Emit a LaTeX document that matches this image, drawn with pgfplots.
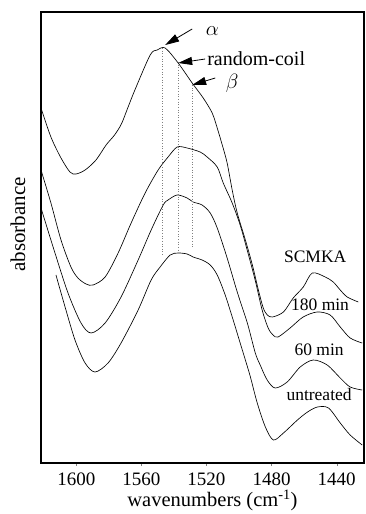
\documentclass[border=0pt]{standalone}
\usepackage{fontspec}
\setmainfont{Liberation Serif}
\usepackage{pgfplots}
\pgfplotsset{compat=1.18}
\usetikzlibrary{arrows.meta}
\begin{document}
\begin{tikzpicture}
\useasboundingbox (-41bp,-51bp) rectangle (325bp,463bp);
\begin{axis}[
  scale only axis, width=323bp, height=451bp,
  x dir=reverse, y dir=reverse,
  xmin=1423.2, xmax=1621.7, ymin=12, ymax=463,
  xtick={1440,1480,1520,1560,1600},
  ytick=\empty,
  xtick pos=bottom,
  tick align=outside, major tick length=3bp,
  axis line style={line width=1.2bp},
  xticklabel style={font=\fontsize{19bp}{23bp}\selectfont, yshift=-3bp},
  /pgf/number format/assume math mode=true,
  /pgf/number format/1000 sep={},
  scaled x ticks=false,
  clip=false,
  every axis plot/.append style={line width=0.65bp, smooth, no marks},
]
% SCMKA
\addplot[black] coordinates {
(1621.7,108)(1615.6,137)(1609.4,158)(1603.9,172)(1600.2,174)(1594.6,170)(1587.9,160)
(1581.7,145)(1576.5,135)(1572.3,124)(1568.4,108)(1564.0,90)(1554.6,55)(1550.3,50)(1545.4,48)
(1537.4,63)(1528.8,83)(1522.0,98)(1516.5,113)(1513.4,128)(1510.3,145)(1507.3,163)
(1504.2,190)(1501.1,213)(1496.1,240)(1491.8,265)(1488.1,290)(1485.1,308)(1482.6,315)
(1479.5,317)(1472.7,312)(1466.7,298)(1460.5,287)(1455.0,273)(1447.0,277)(1442.1,282)
(1437.8,290)(1433.5,297)(1426.7,302)};
% 180 min
\addplot[black] coordinates {
(1621.7,170)(1615.6,203)(1609.4,240)(1603.3,267)(1599.0,278)(1594.0,284)(1589.7,285)
(1582.3,277)(1574.3,253)(1566.3,223)(1557.7,193)(1549.7,170)(1543.6,157)(1538.0,147)
(1531.9,148)(1523.9,152)(1519.6,157)(1513.4,167)(1509.7,183)(1504.2,203)(1499.3,225)
(1495.0,250)(1490.1,280)(1485.8,310)(1482.1,328)(1479.1,335)(1476.0,337)(1468.6,328)
(1460.6,317)(1452.0,312)(1444.0,315)(1437.8,327)(1431.7,338)(1424.3,343)};
% 60 min
\addplot[black] coordinates {
(1621.7,208)(1613.1,253)(1605.1,293)(1597.1,323)(1590.9,333)(1582.3,323)(1572.5,297)
(1562.0,260)(1554.0,230)(1546.6,205)(1543.6,200)(1538.0,195)(1531.9,198)(1528.2,202)
(1522.7,205)(1517.7,213)(1513.4,228)(1507.3,258)(1501.1,292)(1494.9,323)(1490.0,353)
(1487.0,365)(1482.7,380)(1477.8,388)(1470.4,382)(1462.4,367)(1454.4,360)(1445.8,365)
(1437.8,378)(1431.7,387)(1424.3,390)};
% untreated
\addplot[black] coordinates {
(1612.5,275)(1606.9,307)(1600.8,340)(1594.6,363)(1588.5,372)(1580.5,363)(1572.5,343)
(1562.0,310)(1554.0,280)(1548.5,267)(1542.3,255)(1537.4,253)(1531.9,254)(1528.2,257)
(1522.7,260)(1517.7,265)(1513.4,275)(1508.5,295)(1503.6,320)(1499.3,343)(1496.1,360)
(1493.0,377)(1488.8,403)(1483.8,427)(1478.9,440)(1472.7,433)(1464.1,420)(1457.9,412)
(1451.8,407)(1445.0,408)(1437.8,423)(1431.7,435)(1424.3,445)};
% dotted guide lines
\addplot[gray, dotted, line width=0.5bp, sharp plot] coordinates {(1547.1,48)(1547.1,256)};
\addplot[gray, dotted, line width=0.5bp, sharp plot] coordinates {(1537.6,62)(1537.6,250)};
\addplot[gray, dotted, line width=0.5bp, sharp plot] coordinates {(1529.0,85)(1529.0,248)};
% arrows
\draw[line width=0.8bp, -{Triangle[length=14bp,width=8bp]}] (axis cs:1528.8,29) -- (axis cs:1545.4,45);
\draw[line width=0.8bp, -{Triangle[length=14bp,width=8bp]}] (axis cs:1520.8,59) -- (axis cs:1537.4,63);
\draw[line width=0.8bp, -{Triangle[length=14bp,width=8bp]}] (axis cs:1514.6,78) -- (axis cs:1528.8,85);
\node[font=\fontsize{20bp}{24bp}\selectfont] at (axis cs:1516.4,31) {$\alpha$};
\node[font=\fontsize{20bp}{24bp}\selectfont, anchor=west, inner sep=0pt] at (axis cs:1519.6,59) {random-coil};
\node[font=\fontsize{20bp}{24bp}\selectfont] at (axis cs:1504.2,83) {$\beta$};
% curve labels
\node[font=\fontsize{17.5bp}{21bp}\selectfont] at (axis cs:1453.2,257) {SCMKA};
\node[font=\fontsize{17.5bp}{21bp}\selectfont] at (axis cs:1450.2,305) {180 min};
\node[font=\fontsize{17.5bp}{21bp}\selectfont] at (axis cs:1450.8,350) {60 min};
\node[font=\fontsize{17.5bp}{21bp}\selectfont] at (axis cs:1450.8,395) {untreated};
% axis labels
\node[rotate=90, font=\fontsize{21bp}{25bp}\selectfont] at (axis description cs:-0.071,0.529) {absorbance};
\node[anchor=base, font=\fontsize{20.5bp}{25bp}\selectfont] at (axis description cs:0.531,-0.097) {wavenumbers (cm\textsuperscript{-1})};
\end{axis}
\end{tikzpicture}
\end{document}
